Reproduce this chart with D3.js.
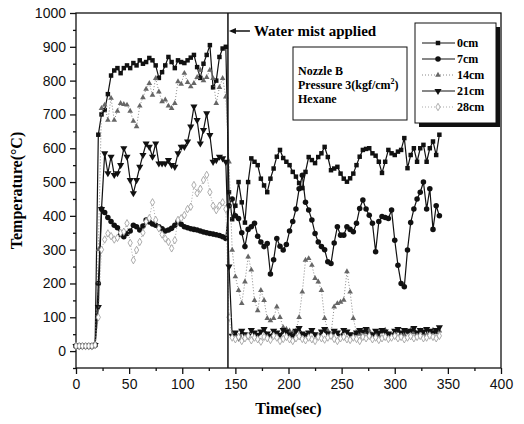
<!DOCTYPE html>
<html>
<head>
<meta charset="utf-8">
<script src="https://cdn.jsdelivr.net/npm/d3@7"></script>
<style>
  body { margin: 0; background: #fff; }
</style>
</head>
<body>
<div id="chart"></div>
<script>
// Set dimensions and margins for plot
const width = 524;
const height = 424;
const margin = {left: 76, right: 23, top: 13, bottom: 56};

// time axis (sec), one reading every 3 s
const times = d3.range(0, 343, 3);

// temperatures (degC)
const t0cm = [15,15,15,15,15,15,18, 640,700,713,760,815,830,837,822,837,845,837,852,845,860,850,855,867,860,845,808,825,845,870,855,837,860,855,852,860,868,876,840,808,850,876,905,780,800,870,895,900,
  470,390,430,500,440,380,500,570,560,550, 510,490,470,510,540,575,595,571,560,550, 530,516,497,482,530,574,565,556,574,585, 604,574,535,540,545,525,510,501,511,525, 550,575,595,598,600,585,578,560,527,560, 595,585,580,590,595,630,541,580,600,560, 600,610,560,600,620,580,640];
const t7cm = [15,15,15,15,15,15,18, 200,420,410,395,383,372,365,345,338,348, 355,372,368,358,370,388,382,376,372,368, 362,355,358,363,372,383,375,368,365,362, 360,358,355,352,350,348,346,344,342,338, 333,
  430,450,400,392,350,309,360,368,378,340, 323,309,318,228,270,333,310,299,315,355, 383,420,480,520,440,417,388,348,323,309, 300,264,259,320,368,343,343,368,360,353, 378,422,447,420,402,378,294,383,398,395, 392,417,328,254,200,190,299,380,420,450, 470,500,420,480,360,430,400];
const t14cm = [15,15,15,15,15,15,18, 300,718,728,683,748,683,710,733,730,728, 710,680,664,725,750,775,792,757,807,767, 738,743,725,718,733,797,790,822,795,782, 792,810,831,800,810,831,807,733,780,807, 752,
  560,299,220,180,141,205,279,240,150,120, 180,150,97,90,97,131,100,70,65,60, 55,60,100,175,269,274,254,215,205,180, 97,60,50,131,141,145,151,235,175,97, 55,50,45,55,60,48,52,45,58,62, 50,47,55,60,52,48,58,62,55,50, 60,52,48,57,62,55,60];
const t21cm = [15,15,15,15,15,15,18, 130,420,585,526,575,521,526,550,600,575, 506,467,506,545,580,614,604,575,614,555, 555,555,565,550,545,585,604,604,620,664, 723,683,614,654,703,639,560,565,575,570, 560,
  250,45,55,40,60,50,45,62,55,48, 58,65,52,45,60,55,48,62,58,50, 45,60,68,52,48,55,62,50,45,58, 65,52,48,60,55,45,62,58,50,48, 55,62,58,65,50,48,60,55,62,58, 52,48,60,65,55,62,58,60,68,55, 62,58,65,60,55,62,70];
const t28cm = [15,15,15,15,15,15,18, 100,300,330,348,340,330,335,350,353,378, 320,269,299,323,350,383,393,440,388,363, 345,333,323,304,328,388,393,402,420,427, 491,467,480,506,521,470,430,417,430,440, 420,
  100,40,35,42,30,38,45,32,40,35, 28,42,38,33,45,40,30,36,42,35, 30,38,44,36,32,40,35,30,42,38, 34,40,45,36,30,38,42,35,33,40, 36,30,42,38,45,35,40,33,38,42, 36,40,45,38,42,35,40,44,38,42, 45,38,40,46,42,38,45];

const seriesNames = ["0cm", "7cm", "14cm", "21cm", "28cm"];
const seriesValues = [t0cm, t7cm, t14cm, t21cm, t28cm];

const waterTime = 143;
const noteLines = ["Nozzle B", "Pressure 3(kgf/cm", "Hexane"];

// look of each series
const styles = [
  {stroke: "#111", dash: null, width: 1.2, symbol: d3.symbolSquare, size: 20, fill: "#111", mstroke: "none"},
  {stroke: "#111", dash: null, width: 1.2, symbol: d3.symbolCircle, size: 24, fill: "#111", mstroke: "none"},
  {stroke: "#888", dash: "1,2", width: 1, symbol: d3.symbolTriangle, size: 14, fill: "#666", mstroke: "none"},
  {stroke: "#111", dash: null, width: 1.2, symbol: d3.symbolTriangle, size: 22, fill: "#111", mstroke: "none", rotate: 180},
  {stroke: "#aaa", dash: "1,2", width: 1, symbol: d3.symbolDiamond, size: 16, fill: "#fff", mstroke: "#999"}
];

const svg = d3.select("#chart")
  .append("svg")
  .attr("width", width)
  .attr("height", height)
  .style("font-family", "'Liberation Sans', Arial, sans-serif");

// scales
const xScale = d3.scaleLinear()
  .domain([0, 400])
  .range([margin.left, width - margin.right]);

const yScale = d3.scaleLinear()
  .domain([-50, 1000])
  .range([height - margin.bottom, margin.top]);

// frame
svg.append("rect")
  .attr("x", margin.left)
  .attr("y", margin.top)
  .attr("width", width - margin.left - margin.right)
  .attr("height", height - margin.top - margin.bottom)
  .attr("fill", "none")
  .attr("stroke", "#111")
  .attr("stroke-width", 1.3);

// major + minor ticks, y
svg.append("g")
  .attr("transform", `translate(${margin.left},0)`)
  .call(d3.axisLeft(yScale).tickValues(d3.range(0, 1001, 100)).tickSize(6).tickPadding(4).tickFormat(d3.format("d")))
  .call(g => g.select(".domain").remove())
  .attr("font-size", "14px");

svg.append("g")
  .attr("transform", `translate(${margin.left},0)`)
  .call(d3.axisLeft(yScale).tickValues(d3.range(-50, 1000, 100)).tickSize(3).tickFormat(""))
  .call(g => g.select(".domain").remove());

// major + minor ticks, x
svg.append("g")
  .attr("transform", `translate(0,${height - margin.bottom})`)
  .call(d3.axisBottom(xScale).tickValues(d3.range(0, 401, 50)).tickSize(6).tickPadding(5).tickFormat(d3.format("d")))
  .call(g => g.select(".domain").remove())
  .attr("font-size", "14px");

svg.append("g")
  .attr("transform", `translate(0,${height - margin.bottom})`)
  .call(d3.axisBottom(xScale).tickValues(d3.range(25, 400, 50)).tickSize(3).tickFormat(""))
  .call(g => g.select(".domain").remove());

svg.selectAll(".tick line").attr("stroke", "#111").attr("stroke-width", 1.3);
svg.selectAll(".tick text").attr("fill", "#111");

// axis titles
svg.append("text")
  .attr("transform", `translate(22,${(margin.top + height - margin.bottom) / 2}) rotate(-90)`)
  .style("text-anchor", "middle")
  .style("font-family", "'Liberation Serif', 'Times New Roman', serif")
  .style("font-weight", "bold")
  .style("font-size", "16px")
  .text("Temperature(°C)");

svg.append("text")
  .attr("x", (margin.left + width - margin.right) / 2)
  .attr("y", 414)
  .style("text-anchor", "middle")
  .style("font-family", "'Liberation Serif', 'Times New Roman', serif")
  .style("font-weight", "bold")
  .style("font-size", "16px")
  .text("Time(sec)");

// series lines and markers
const line = d3.line()
  .x((d, i) => xScale(times[i]))
  .y(d => yScale(d));

seriesValues.forEach((vals, k) => {
  const s = styles[k];
  svg.append("path")
    .datum(vals)
    .attr("fill", "none")
    .attr("stroke", s.stroke)
    .attr("stroke-width", s.width)
    .attr("stroke-dasharray", s.dash)
    .attr("d", line);

  svg.append("g")
    .selectAll("path")
    .data(vals)
    .enter()
    .append("path")
      .attr("d", d3.symbol().type(s.symbol).size(s.size))
      .attr("transform", (d, i) => `translate(${xScale(times[i])},${yScale(d)})` + (s.rotate ? ` rotate(${s.rotate})` : ""))
      .attr("fill", s.fill)
      .attr("stroke", s.mstroke)
      .attr("stroke-width", 0.8);
});

// water mist line + annotation
svg.append("line")
  .attr("x1", xScale(waterTime)).attr("x2", xScale(waterTime))
  .attr("y1", yScale(-50)).attr("y2", yScale(1000))
  .attr("stroke", "#111")
  .attr("stroke-width", 1.5);

const ay = 31;
svg.append("line")
  .attr("x1", xScale(waterTime) + 3).attr("x2", xScale(waterTime) + 22)
  .attr("y1", ay).attr("y2", ay)
  .attr("stroke", "#111").attr("stroke-width", 1.5);
svg.append("path")
  .attr("d", `M${xScale(waterTime) + 1},${ay} l7,-3 l0,6 z`)
  .attr("fill", "#111");

svg.append("text")
  .attr("x", xScale(waterTime) + 26)
  .attr("y", ay + 5)
  .style("font-family", "'Liberation Serif', 'Times New Roman', serif")
  .style("font-weight", "bold")
  .style("font-size", "15px")
  .text("Water mist applied");

// note box
svg.append("rect")
  .attr("x", 293).attr("y", 47).attr("width", 114).attr("height", 73)
  .attr("fill", "#fff").attr("stroke", "#111").attr("stroke-width", 1);

const note = svg.append("text")
  .style("font-family", "'Liberation Serif', 'Times New Roman', serif")
  .style("font-weight", "bold")
  .style("font-size", "12px");
noteLines.forEach((t, i) => {
  note.append("tspan").attr("x", 298).attr("y", 75 + i * 14).text(t);
  if (i === 1) {
    note.append("tspan").attr("dy", -5).style("font-size", "8px").text("2");
    note.append("tspan").attr("dy", 5).text(")");
  }
});

// legend with shadow
const lg = {x: 415, y: 23, w: 81, h: 100};
svg.append("rect")
  .attr("x", lg.x + 4).attr("y", lg.y + 4).attr("width", lg.w).attr("height", lg.h)
  .attr("fill", "#111");
svg.append("rect")
  .attr("x", lg.x).attr("y", lg.y).attr("width", lg.w).attr("height", lg.h)
  .attr("fill", "#fff").attr("stroke", "#111").attr("stroke-width", 1);

seriesNames.forEach((name, k) => {
  const s = styles[k];
  const yy = lg.y + 20 + k * 16;
  svg.append("line")
    .attr("x1", lg.x + 7).attr("x2", lg.x + 40)
    .attr("y1", yy).attr("y2", yy)
    .attr("stroke", s.stroke).attr("stroke-width", s.width)
    .attr("stroke-dasharray", s.dash);
  svg.append("path")
    .attr("d", d3.symbol().type(s.symbol).size(s.size)())
    .attr("transform", `translate(${lg.x + 23},${yy})` + (s.rotate ? ` rotate(${s.rotate})` : ""))
    .attr("fill", s.fill).attr("stroke", s.mstroke).attr("stroke-width", 0.8);
  svg.append("text")
    .attr("x", lg.x + 42).attr("y", yy + 4)
    .style("font-family", "'Liberation Serif', 'Times New Roman', serif")
    .style("font-weight", "bold")
    .style("font-size", "12px")
    .text(name);
});
</script>
</body>
</html>
